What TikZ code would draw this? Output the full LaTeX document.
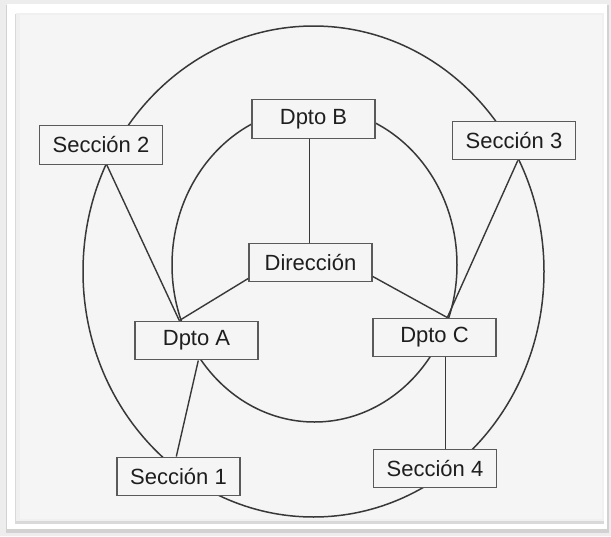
\documentclass[tikz,border=0pt]{standalone}
\usepackage{fontspec}
\setmainfont{Liberation Sans}
\usetikzlibrary{calc}
\definecolor{bgpage}{HTML}{EDEDED}
\definecolor{panel}{HTML}{F5F5F5}
\definecolor{inkline}{HTML}{383838}
\definecolor{boxline}{HTML}{5A5A5A}
\definecolor{inktext}{HTML}{1E1E1E}
\begin{document}
\begin{tikzpicture}[x=1pt,y=-1pt,
  orgbox/.style={draw=boxline,line width=1.4pt,fill=panel,rectangle,inner sep=0pt,
    minimum width=123pt,minimum height=38.5pt,text=inktext,
    font=\fontsize{22}{26}\selectfont},
  ring/.style={draw=inkline,line width=1.5pt},
  link/.style={draw=inkline,line width=1.4pt}]
\useasboundingbox (0,0) rectangle (611,536);
% frame
\fill[bgpage] (0,0) rectangle (611,536);
\fill[gray!35] (6,5) rectangle (609,533);
\fill[white] (7,4) rectangle (607,529);
\fill[gray!30] (15,14) rectangle (604,524);
\fill[gray!12] (16,13) rectangle (604,521);
\fill[panel] (20,15) rectangle (602,519);
% rings
\draw[ring] (313.5,271.5) ellipse [x radius=230.5pt, y radius=245.5pt];
\draw[ring] (314.5,265) ellipse [x radius=142.5pt, y radius=157pt];
% nodes
\node[orgbox] (sec2) at (101,145) {Sección 2};
\node[orgbox] (dptoB) at (313.5,119) {Dpto B};
\node[orgbox] (dir) at (310.5,262.5) {Dirección};
\node[orgbox] (dptoA) at (196.5,340.5) {Dpto A};
\node[orgbox] (sec1) at (178.5,476.5) {Sección 1};
\node[orgbox] (sec3) at (514,140.5) {Sección 3};
\node[orgbox] (dptoC) at (434.5,337.5) {Dpto C};
\node[orgbox] (sec4) at (435,468.5) {Sección 4};
% junctions
\coordinate (jA) at ($(dptoA.north west)+(45,0)$);
\coordinate (jAb) at ($(dptoA.south west)+(64,0)$);
\coordinate (jC) at ($(dptoC.north west)+(75,0)$);
\coordinate (jCb) at ($(dptoC.south west)+(73,0)$);
\coordinate (j2) at ($(sec2.south west)+(68,0)$);
\coordinate (j3) at ($(sec3.south west)+(66,0)$);
\coordinate (j1) at ($(sec1.north west)+(60,0)$);
\coordinate (dL) at ($(dir.south west)+(0,-4)$);
\coordinate (dR) at ($(dir.south east)+(0,-6)$);
\coordinate (bB) at ($(dptoB.south)+(-4,0)$);
% connectors
\draw[link] (bB) -- (bB |- dir.north);
\draw[link] (dL) -- (jA);
\draw[link] (dR) -- (jC);
\draw[link] (j2) -- (jA);
\draw[link] (j3) -- (jC);
\draw[link] (jAb) -- (j1);
\draw[link] (jCb) -- (jCb |- sec4.north);
\end{tikzpicture}
\end{document}
